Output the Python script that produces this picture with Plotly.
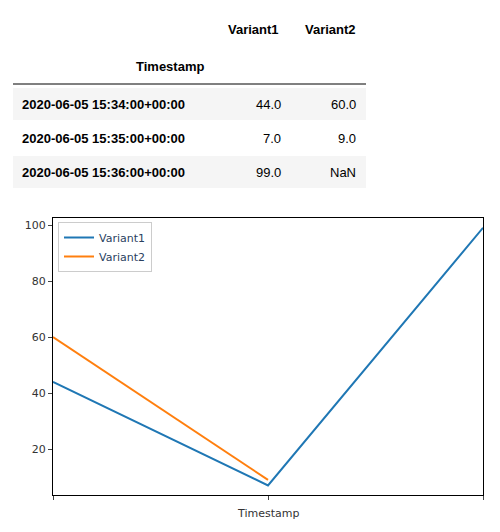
import plotly.graph_objects as go

timestamps = ["2020-06-05 15:34:00+00:00", "2020-06-05 15:35:00+00:00", "2020-06-05 15:36:00+00:00"]
variant1 = [44.0, 7.0, 99.0]
variant2 = [60.0, 9.0, None]
columns = ["Variant1", "Variant2"]

W, H = 500, 532
def px(x):
    return x / W
def py(y):
    return 1 - y / H

fig = go.Figure()
fig.add_trace(go.Scatter(x=[0, 1, 2], y=variant1, mode="lines", name="Variant1",
                         line=dict(color="#1f77b4", width=2)))
fig.add_trace(go.Scatter(x=[0, 1, 2], y=variant2, mode="lines", name="Variant2",
                         line=dict(color="#ff7f0e", width=2)))

ann = []
shapes = []
font_b = dict(family="Helvetica, Arial", size=13, color="black")
font_n = dict(family="Helvetica, Arial", size=13, color="black")
# header
ann.append(dict(x=px(245), y=py(22), text="<b>" + columns[0] + "</b>", font=font_b))
ann.append(dict(x=px(322), y=py(22), text="<b>" + columns[1] + "</b>", font=font_b))
ann.append(dict(x=px(162), y=py(58), text="<b>Timestamp</b>", font=font_b))
shapes.append(dict(type="line", xref="paper", yref="paper", x0=px(5), x1=px(358), y0=py(76), y1=py(76),
                   line=dict(color="black", width=1)))
row_y = [96, 130, 164]
for i, ts in enumerate(timestamps):
    y = row_y[i]
    if i % 2 == 0:
        shapes.append(dict(type="rect", xref="paper", yref="paper", x0=px(5), x1=px(358),
                           y0=py(y - 16), y1=py(y + 16), fillcolor="#f5f5f5", line=dict(width=0), layer="below"))
    ann.append(dict(x=px(12), y=py(y), xanchor="left", text="<b>" + ts + "</b>", font=font_b))
    v1 = variant1[i]
    v2 = variant2[i]
    ann.append(dict(x=px(275), y=py(y), xanchor="right", text="NaN" if v1 is None else f"{v1:.1f}", font=font_n))
    ann.append(dict(x=px(350), y=py(y), xanchor="right", text="NaN" if v2 is None else f"{v2:.1f}", font=font_n))
for a in ann:
    a["xref"] = "paper"
    a["yref"] = "paper"
    a["showarrow"] = False
    a["yanchor"] = "middle"
    a.setdefault("xanchor", "center")
ann.append(dict(x=(px(45) + px(475)) / 2, y=py(505), xref="paper", yref="paper", text="Timestamp",
                showarrow=False, yanchor="middle", font=dict(family="DejaVu Sans", size=11, color="#333")))

fig.update_layout(
    width=W, height=H, margin=dict(l=0, r=0, t=0, b=0),
    paper_bgcolor="white", plot_bgcolor="white",
    annotations=ann, shapes=shapes,
    xaxis=dict(domain=[px(45), px(475)], range=[0, 2], tickvals=[0, 1, 2], ticktext=["", "", ""],
               showgrid=False, zeroline=False, showline=True, mirror=True, linecolor="black",
               ticks="outside", ticklen=4),
    yaxis=dict(domain=[py(487), py(210)], range=[3.6, 102.5], tickvals=[20, 40, 60, 80, 100],
               showgrid=False, zeroline=False, showline=True, mirror=True, linecolor="black",
               ticks="outside", ticklen=4, tickfont=dict(family="DejaVu Sans", size=11, color="#333")),
    legend=dict(x=px(50), y=py(214), xanchor="left", yanchor="top", bgcolor="rgba(255,255,255,0.8)",
                bordercolor="#ccc", borderwidth=1, font=dict(family="DejaVu Sans", size=11),
                tracegroupgap=0),
)
fig.write_html("out.html")
